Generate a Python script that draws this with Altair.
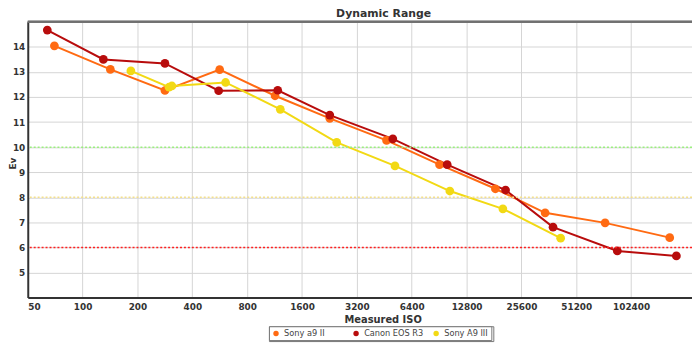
import altair as alt
import pandas as pd

# ---- data ----
series_names = ["Sony a9 II", "Canon EOS R3", "Sony A9 III"]
series_colors = ["#FF6A12", "#B80C0C", "#F2D914"]

sony_a9ii_iso = [70, 142, 283, 565, 1138, 2272, 4657, 9100, 18420, 34540, 73700, 166800]
sony_a9ii_ev = [14.04, 13.10, 12.26, 13.09, 12.05, 11.15, 10.27, 9.30, 8.34, 7.38, 6.98, 6.39]

canon_r3_iso = [64, 130, 283, 558, 1177, 2272, 5040, 10020, 20950, 38170, 86000, 181400]
canon_r3_ev = [14.67, 13.50, 13.34, 12.25, 12.27, 11.28, 10.33, 9.30, 8.29, 6.81, 5.86, 5.66]

sony_a9iii_iso = [184, 298, 309, 609, 1216, 2480, 5180, 10360, 20250, 42030]
sony_a9iii_ev = [13.04, 12.39, 12.44, 12.58, 11.51, 10.19, 9.25, 8.25, 7.54, 6.37]

x_ticks = [50, 100, 200, 400, 800, 1600, 3200, 6400, 12800, 25600, 51200, 102400]
y_ticks = [5, 6, 7, 8, 9, 10, 11, 12, 13, 14]

ref_values = [10, 8, 6]
ref_colors = ["#9BEF7E", "#F4E08C", "#FF2020"]

rows = []
for name, isos, evs in [
    (series_names[0], sony_a9ii_iso, sony_a9ii_ev),
    (series_names[1], canon_r3_iso, canon_r3_ev),
    (series_names[2], sony_a9iii_iso, sony_a9iii_ev),
]:
    for i, (iso, ev) in enumerate(zip(isos, evs)):
        rows.append({"camera": name, "iso": iso, "ev": ev, "idx": i})
df = pd.DataFrame(rows)
ref_df = pd.DataFrame({"v": ref_values, "c": ref_colors})

FONT = "DejaVu Sans"
Y_SCALE = alt.Scale(domain=[4, 15], nice=False)
Y_AXIS = alt.Axis(
    values=y_ticks, title="Ev", titleX=-15, titleY=143,
    titleAlign="center", titleBaseline="middle", labelOverlap=False,
    labelPadding=3,
)

x_enc = alt.X(
    "iso:Q",
    scale=alt.Scale(type="log", base=2, domain=[50, 221000], nice=False),
    axis=alt.Axis(
        values=x_ticks, format="d", title="Measured ISO",
        titleX=359, titlePadding=3, labelOverlap=False,
    ),
)
y_enc = alt.Y("ev:Q", scale=Y_SCALE, axis=Y_AXIS, title="Ev")
color_enc = alt.Color(
    "camera:N",
    scale=alt.Scale(domain=series_names, range=series_colors),
    legend=alt.Legend(
        title=None, orient="none", legendX=244, legendY=308,
        direction="horizontal", gridAlign="all", columnPadding=8,
        strokeColor="#777", fillColor="white", padding=3,
        symbolType="circle",
        symbolSize=30, symbolStrokeWidth=1, labelFontSize=8.3,
        labelColor="#444", labelFont=FONT, labelOffset=4,
    ),
)

lines = alt.Chart(df).mark_line(strokeWidth=2).encode(
    x=x_enc, y=y_enc, color=color_enc, order="idx:Q"
)
points = alt.Chart(df).mark_point(filled=True, size=78, opacity=1).encode(
    x=x_enc, y=y_enc, color=color_enc
)

refs = alt.Chart(ref_df).mark_rule(strokeDash=[2, 2], strokeWidth=1.5).encode(
    y=alt.Y("v:Q", scale=Y_SCALE, axis=Y_AXIS, title="Ev"),
    color=alt.Color("c:N", scale=None),
)

top_border = alt.Chart(ref_df).mark_rule(color="#707070", strokeWidth=2).encode(
    y=alt.value(0)
)

chart = (
    alt.layer(lines, points, refs, top_border)
    .resolve_scale(color="independent")
    .properties(
        width=672,
        height=279,
        autosize=alt.AutoSizeParams(type="none"),
        padding={"left": 20, "top": 12, "right": 0, "bottom": 45},
        title=alt.TitleParams(
            "Dynamic Range", fontSize=11, fontWeight="bold", font=FONT,
            color="#333", dx=24, offset=2, anchor="middle",
        ),
    )
    .configure_view(stroke=None)
    .configure_axis(
        labelFont=FONT, titleFont=FONT, labelFontSize=9, labelFontWeight="bold",
        labelColor="#333", titleFontSize=9, titleFontWeight="bold", titleColor="#333",
        gridColor="#d4d4d4", gridWidth=1, ticks=False, domainColor="#333",
        domainWidth=2, labelPadding=5,
    )
    .configure_axisX(titleFontSize=10)
)

chart.save("out.html", embed_options={"renderer": "svg", "actions": False})
